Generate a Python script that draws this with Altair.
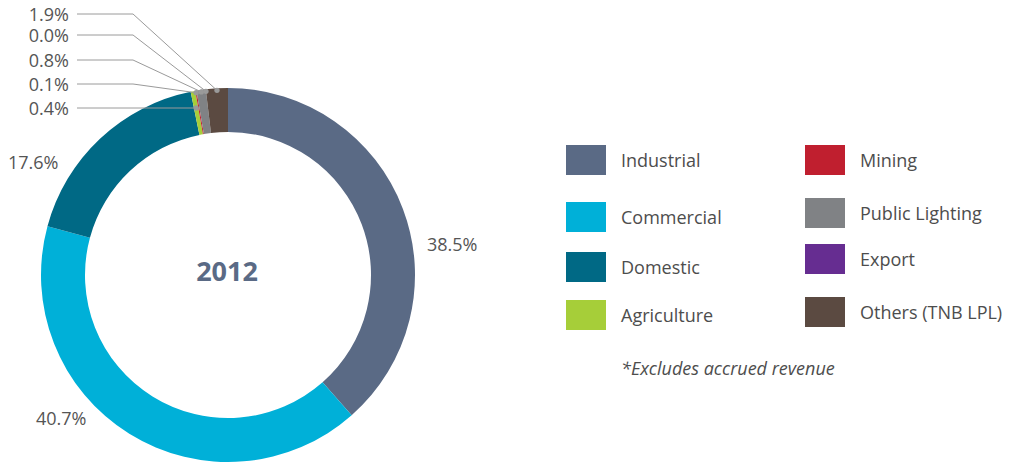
import math
import altair as alt
import pandas as pd

# ---------------- data ----------------
categories = ["Industrial", "Commercial", "Domestic", "Agriculture",
              "Mining", "Public Lighting", "Export", "Others (TNB LPL)"]
shares = [38.5, 40.7, 17.6, 0.4, 0.1, 0.8, 0.0, 1.9]
pct_labels = ["38.5%", "40.7%", "17.6%", "0.4%", "0.1%", "0.8%", "0.0%", "1.9%"]
colors = ["#5a6a85", "#00b0d8", "#006985", "#a6ce39",
          "#c01f2f", "#808285", "#662d91", "#5b4a41"]
year_label = "2012"
note = "*Excludes accrued revenue"

# ---------------- layout (image px) ----------------
PAD_TOP = 8
OX, OY = 8, 8 + PAD_TOP
W, H = 1012 - 16, 470
CX, CY = 228, 275
R_OUT, R_IN = 187, 143
FS = 18
TXT_DY = 1.5  # vertical nudge for middle-baseline text


def px(x):
    return x - OX


def py(y):
    return y - OY


xs = alt.Scale(domain=[0, W], range=[0, W])
ys = alt.Scale(domain=[0, H], range=[0, H])

# donut
arc_df = pd.DataFrame({"cat": categories, "value": shares, "idx": range(len(categories))})
donut = alt.Chart(arc_df).mark_arc(radius=R_OUT, radius2=R_IN).encode(
    theta=alt.Theta("value:Q", stack=True),
    color=alt.Color("cat:N", scale=alt.Scale(domain=categories, range=colors), legend=None),
    order=alt.Order("idx:Q"),
    x=alt.value(px(CX)),
    y=alt.value(py(CY)),
)

# mid angles from data
total = sum(shares)
cum = 0.0
mids = []
for v in shares:
    mids.append(2 * math.pi * (cum + v / 2) / total)
    cum += v

# large labels (index -> anchor)
big = [(0, 427, 244), (1, 36, 418), (2, 8, 162)]
big_df = pd.DataFrame({
    "t": [pct_labels[i] for i, _, _ in big],
    "x": [px(x) for _, x, _ in big],
    "y": [py(y + TXT_DY) for _, _, y in big],
})
big_text = alt.Chart(big_df).mark_text(
    align="left", baseline="middle", font="Open Sans", fontSize=FS, color="#555555"
).encode(x=alt.X("x:Q", scale=xs, axis=None), y=alt.Y("y:Q", scale=ys, axis=None), text="t:N")

# small labels with leaders: order top -> bottom
small_idx = [7, 6, 5, 4, 3]
small_y = [14, 35, 60, 84, 108]
dot_r = [185, 185, 185, 185, 170]
line_rows, dot_rows, stext_rows = [], [], []
for k, (i, ly, r) in enumerate(zip(small_idx, small_y, dot_r)):
    a = mids[i]
    dx = CX + r * math.sin(a)
    dy = CY - r * math.cos(a)
    pts = [(77, ly), (133, ly), (dx, dy)]
    for j, (x, y) in enumerate(pts):
        line_rows.append({"g": k, "o": j, "x": px(x), "y": py(y)})
    dot_rows.append({"x": px(dx), "y": py(dy)})
    stext_rows.append({"t": pct_labels[i], "x": px(69), "y": py(ly + TXT_DY)})

leaders = alt.Chart(pd.DataFrame(line_rows)).mark_line(color="#9a9a9a", strokeWidth=1).encode(
    x=alt.X("x:Q", scale=xs, axis=None), y=alt.Y("y:Q", scale=ys, axis=None),
    detail="g:N", order="o:Q")
dots = alt.Chart(pd.DataFrame(dot_rows)).mark_circle(color="#9a9a9a", size=28, opacity=1).encode(
    x=alt.X("x:Q", scale=xs, axis=None), y=alt.Y("y:Q", scale=ys, axis=None))
small_text = alt.Chart(pd.DataFrame(stext_rows)).mark_text(
    align="right", baseline="middle", font="Open Sans", fontSize=FS, color="#555555"
).encode(x=alt.X("x:Q", scale=xs, axis=None), y=alt.Y("y:Q", scale=ys, axis=None), text="t:N")

# centre year
year_df = pd.DataFrame({"t": [year_label], "x": [px(CX - 1)], "y": [py(273)]})
year = alt.Chart(year_df).mark_text(
    align="center", baseline="middle", font="Open Sans", fontSize=27, fontWeight="bold",
    color="#5a6a85").encode(x=alt.X("x:Q", scale=xs, axis=None),
                             y=alt.Y("y:Q", scale=ys, axis=None), text="t:N")

# custom legend (two columns of four)
col_x = [566, 805]
rows_y = [[160, 217, 267, 315], [160, 213, 259, 312]]
leg_rows = []
for n, c in enumerate(categories):
    col, row = divmod(n, 4)
    yc = rows_y[col][row]
    leg_rows.append({"cat": c, "x": px(col_x[col]), "x2": px(col_x[col] + 40),
                     "y": py(yc - 15), "y2": py(yc + 15),
                     "tx": px(col_x[col] + 55), "ty": py(yc + TXT_DY)})
leg_df = pd.DataFrame(leg_rows)
leg_sq = alt.Chart(leg_df).mark_rect().encode(
    x=alt.X("x:Q", scale=xs, axis=None), x2="x2:Q",
    y=alt.Y("y:Q", scale=ys, axis=None), y2="y2:Q",
    color=alt.Color("cat:N", scale=alt.Scale(domain=categories, range=colors), legend=None))
leg_tx = alt.Chart(leg_df).mark_text(
    align="left", baseline="middle", font="Open Sans", fontSize=FS, color="#4d4d4d"
).encode(x=alt.X("tx:Q", scale=xs, axis=None), y=alt.Y("ty:Q", scale=ys, axis=None), text="cat:N")

note_df = pd.DataFrame({"t": [note], "x": [px(621)], "y": [py(368 + TXT_DY)]})
note_tx = alt.Chart(note_df).mark_text(
    align="left", baseline="middle", font="Open Sans", fontSize=FS, fontStyle="italic",
    color="#4d4d4d").encode(x=alt.X("x:Q", scale=xs, axis=None),
                             y=alt.Y("y:Q", scale=ys, axis=None), text="t:N")

chart = alt.layer(donut, leaders, dots, small_text, big_text, year, leg_sq, leg_tx, note_tx).properties(
    width=W, height=H,
    padding={"left": 0, "top": PAD_TOP, "right": 0, "bottom": 0},
    autosize=alt.AutoSizeParams(type="none"),
    background="white",
).configure_view(strokeWidth=0, stroke="transparent")

chart.save("out.html", embed_options={"renderer": "svg", "actions": False})
